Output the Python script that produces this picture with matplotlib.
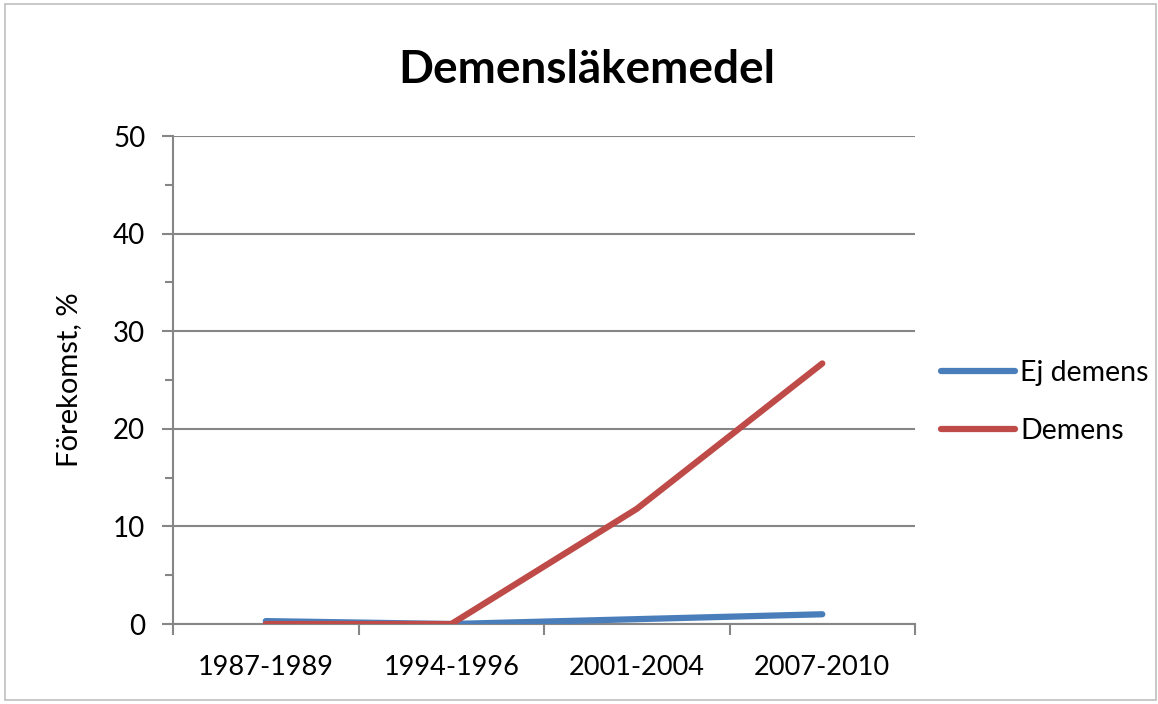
import matplotlib.pyplot as plt
from matplotlib.patches import Rectangle
from matplotlib.ticker import MultipleLocator, FixedLocator

plt.rcParams['font.family'] = ['Lato', 'DejaVu Sans']

# data
perioder = ['1987-1989', '1994-1996', '2001-2004', '2007-2010']
ej_demens = [0.3, 0.0, 0.5, 1.0]
demens = [0.0, 0.0, 11.8, 26.7]

blue = '#4A7EBB'
red = '#BE4B48'
grid_col = '#868686'

fig = plt.figure(figsize=(11.58, 7.04), dpi=100)
ax = fig.add_axes([0.1494, 0.1136, 0.6408, 0.6932])

x = range(len(perioder))
ax.plot(x, ej_demens, color=blue, lw=4.5, solid_capstyle='round', label='Ej demens', zorder=3)
ax.plot(x, demens, color=red, lw=4.5, solid_capstyle='round', label='Demens', zorder=4)

ax.set_xlim(-0.5, len(perioder) - 0.5)
ax.set_ylim(0, 50)

# y axis: major every 10, minor every 5
ax.yaxis.set_major_locator(MultipleLocator(10))
ax.yaxis.set_minor_locator(MultipleLocator(5))
ax.tick_params(axis='y', which='major', length=8, width=1.5, color=grid_col, labelsize=20, pad=12)
ax.tick_params(axis='y', which='minor', length=6, width=1.5, color=grid_col)

# x axis: tick marks between categories, labels in the middle
ax.xaxis.set_major_locator(FixedLocator([i - 0.5 for i in range(len(perioder) + 1)]))
ax.xaxis.set_minor_locator(FixedLocator(list(x)))
ax.set_xticklabels([])
ax.set_xticklabels(perioder, minor=True)
ax.tick_params(axis='x', which='major', length=8, width=1.5, color=grid_col)
ax.tick_params(axis='x', which='minor', length=0, labelsize=19.5, pad=22)

ax.grid(axis='y', which='major', color=grid_col, lw=1.5)
ax.set_axisbelow(True)
for s in ['top', 'right']:
    ax.spines[s].set_visible(False)
for s in ['left', 'bottom']:
    ax.spines[s].set_color(grid_col)
    ax.spines[s].set_linewidth(1.5)

ax.set_ylabel('Förekomst, %', fontsize=21, labelpad=22)
fig.text(0.507, 0.90, 'Demensläkemedel', ha='center', va='center', fontsize=33, fontweight='bold')

ax.legend(loc='center left', bbox_to_anchor=(1.0, 0.455), frameon=False, fontsize=20.5,
          handlelength=2.6, handletextpad=0.2, labelspacing=1.15)

# light frame around the chart
fig.patches.append(Rectangle((0.004, 0.005), 0.994, 0.99, transform=fig.transFigure,
                             fill=False, edgecolor='#BFBFBF', lw=1.2))

fig.savefig('out.png', dpi=100)
